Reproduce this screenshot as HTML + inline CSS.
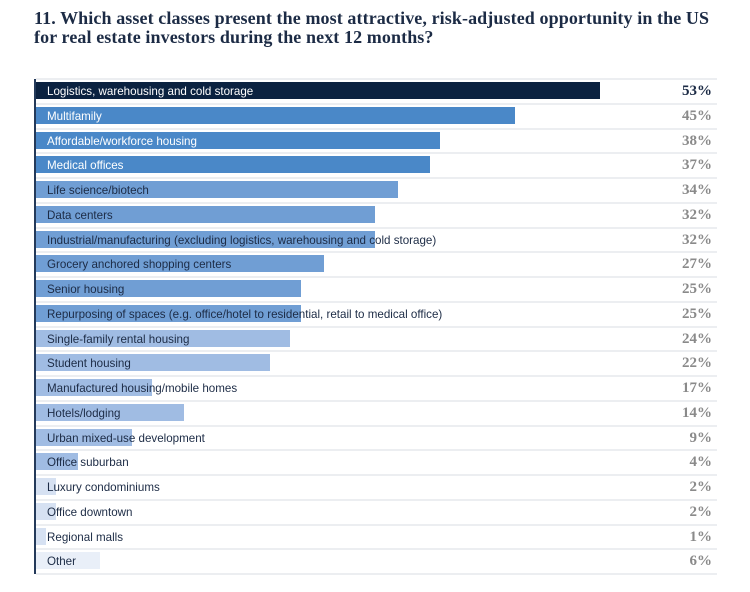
<!DOCTYPE html>
<html><head><meta charset="utf-8"><style>
body{margin:0;width:750px;height:592px;background:#fff;position:relative;overflow:hidden;font-family:"Liberation Sans",sans-serif}
.t{position:absolute;left:34px;top:9px;font-family:"Liberation Serif",serif;font-weight:bold;font-size:18px;line-height:19px;color:#1c2b45;letter-spacing:0.1px;white-space:nowrap}
.axis{position:absolute;left:34px;top:79px;width:2px;height:495px;background:#243a5a}
.sep{position:absolute;left:36px;width:681px;height:2px;background:#eceef1}
.bar{position:absolute;left:36px;height:17px}
.lab{position:absolute;left:47px;font-size:11.6px;line-height:17px;color:#1c2b45;white-space:nowrap}
.pct{position:absolute;right:38px;font-family:"Liberation Serif",serif;font-size:15px;line-height:17px;color:#8a8a8a;font-weight:bold}
</style></head><body>
<div class="t">11. Which asset classes present the most attractive, risk-adjusted opportunity in the US<br>for real estate investors during the next 12 months?</div>
<div class="axis"></div>
<div id="c"></div>
<script>
var d=[["Logistics, warehousing and cold storage","53%",600,"#0b2240",1],
["Multifamily","45%",515,"#4a88c8",1],
["Affordable/workforce housing","38%",440,"#4a88c8",1],
["Medical offices","37%",430,"#4a88c8",1],
["Life science/biotech","34%",398,"#709ed4",0],
["Data centers","32%",375,"#709ed4",0],
["Industrial/manufacturing (excluding logistics, warehousing and cold storage)","32%",375,"#709ed4",0],
["Grocery anchored shopping centers","27%",324,"#709ed4",0],
["Senior housing","25%",301,"#709ed4",0],
["Repurposing of spaces (e.g. office/hotel to residential, retail to medical office)","25%",301,"#709ed4",0],
["Single-family rental housing","24%",290,"#a0bce3",0],
["Student housing","22%",270,"#a0bce3",0],
["Manufactured housing/mobile homes","17%",152,"#a0bce3",0],
["Hotels/lodging","14%",184,"#a0bce3",0],
["Urban mixed-use development","9%",132,"#a0bce3",0],
["Office suburban","4%",78,"#a0bce3",0],
["Luxury condominiums","2%",56,"#d6e1f2",0],
["Office downtown","2%",56,"#d6e1f2",0],
["Regional malls","1%",46,"#d6e1f2",0],
["Other","6%",100,"#e9eff8",0]];
var h="";
for(var i=0;i<d.length;i++){var y=79+i*24.75;
h+='<div class="sep" style="top:'+(y-1)+'px"></div>';
h+='<div class="bar" style="top:'+(y+3)+'px;width:'+(d[i][2]-36)+'px;background:'+d[i][3]+'"></div>';
h+='<div class="lab" style="top:'+(y+4)+'px;color:'+(d[i][4]?'#fff':'#1c2b45')+'">'+d[i][0]+'</div>';
h+='<div class="pct" style="top:'+(y+4)+'px;'+(i==0?'color:#1c2b45':'')+'">'+d[i][1]+'</div>';}
h+='<div class="sep" style="top:'+(79+20*24.75-1)+'px"></div>';
document.getElementById("c").innerHTML=h;
</script>
</body></html>
